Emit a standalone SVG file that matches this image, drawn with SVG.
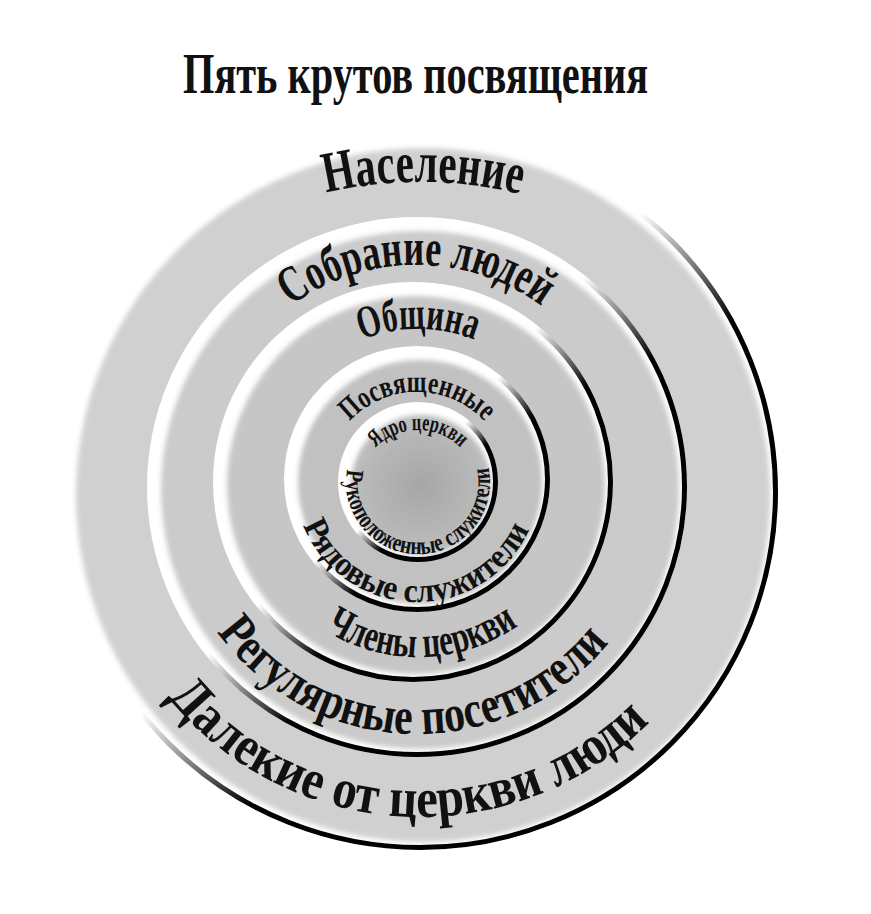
<svg xmlns="http://www.w3.org/2000/svg" width="871" height="914" viewBox="0 0 871 914">
<style>
.lbl{font-family:"Liberation Serif","Times New Roman",serif;font-weight:bold;fill:#111}
.halo{fill:#fff}
.edge{fill:none;stroke:url(#shade);stroke-width:5}
</style>
<defs>
<linearGradient id="shade" x1="0" y1="0" x2="1" y2="1">
<stop offset="0" stop-color="#000" stop-opacity="0"/>
<stop offset="0.46" stop-color="#000" stop-opacity="0"/>
<stop offset="0.6" stop-color="#000" stop-opacity="1"/>
<stop offset="1" stop-color="#000" stop-opacity="1"/>
</linearGradient>
<radialGradient id="core" cx="0.5" cy="0.5" r="0.5">
<stop offset="0" stop-color="#a6a6a6"/>
<stop offset="1" stop-color="#bdbdbd"/>
</radialGradient>
<filter id="soft" x="-10%" y="-10%" width="120%" height="120%">
<feGaussianBlur stdDeviation="2.5"/>
</filter>
<path id="p1" d="M 326 192.9 A 418 418 0 0 1 520 193.9"/>
<path id="p10" d="M 167.4 696.5 A 325 325 0 0 0 649.8 721.8"/>
<path id="p2" d="M 290.8 305.7 A 213 213 0 0 1 541.2 305.7"/>
<path id="p9" d="M 217.2 632.2 A 247 247 0 0 0 609 642.4"/>
<path id="p3" d="M 361.9 339.7 A 153 153 0 0 1 474.1 339.7"/>
<path id="p8" d="M 325.3 630.4 A 175 175 0 0 0 518.4 625.4"/>
<path id="p4" d="M 349.7 421.3 A 92 92 0 0 1 484.3 421.3"/>
<path id="p7" d="M 303 525.1 A 123 123 0 0 0 529.4 529"/>
<path id="p5" d="M 375.6 447.6 A 60 60 0 0 1 460.4 447.6"/>
<path id="p6" d="M 347.1 469.5 A 72 72 0 1 0 488.4 467"/>
</defs>

<g id="title">
<text class="lbl" x="183" y="93" font-size="57" textLength="465" lengthAdjust="spacingAndGlyphs">Пять крутов посвящения</text>
</g>

<g id="circle-population">
<circle class="halo" cx="420" cy="492" r="358"/>
<circle cx="423" cy="495" r="347" fill="#d0d0d0" filter="url(#soft)"/>
<circle class="edge" cx="420" cy="492" r="355.5"/>
<text class="lbl" font-size="58"><textPath href="#p1" textLength="196" lengthAdjust="spacingAndGlyphs">Население</textPath></text>
<text class="lbl" font-size="56"><textPath href="#p10" textLength="544" lengthAdjust="spacingAndGlyphs">Далекие от церкви люди</textPath></text>
</g>

<g id="circle-crowd">
<circle class="halo" cx="417" cy="487" r="270"/>
<circle cx="420" cy="490" r="259" fill="#cbcbcb" filter="url(#soft)"/>
<circle class="edge" cx="417" cy="487" r="267.5"/>
<text class="lbl" font-size="52"><textPath href="#p2" textLength="268" lengthAdjust="spacingAndGlyphs">Собрание людей</textPath></text>
<text class="lbl" font-size="52"><textPath href="#p9" textLength="452" lengthAdjust="spacingAndGlyphs">Регулярные посетители</textPath></text>
</g>

<g id="circle-congregation">
<circle class="halo" cx="413" cy="482" r="200"/>
<circle cx="416" cy="485" r="189" fill="#c6c6c6" filter="url(#soft)"/>
<circle class="edge" cx="413" cy="482" r="197.5"/>
<text class="lbl" font-size="46"><textPath href="#p3" textLength="115" lengthAdjust="spacingAndGlyphs">Община</textPath></text>
<text class="lbl" font-size="44"><textPath href="#p8" textLength="204" lengthAdjust="spacingAndGlyphs">Члены церкви</textPath></text>
</g>

<g id="circle-committed">
<circle class="halo" cx="417" cy="479" r="133"/>
<circle cx="420" cy="482" r="122" fill="#c1c1c1" filter="url(#soft)"/>
<circle class="edge" cx="417" cy="479" r="130.5"/>
<text class="lbl" font-size="31"><textPath href="#p4" textLength="151" lengthAdjust="spacingAndGlyphs">Посвященные</textPath></text>
<text class="lbl" font-size="34"><textPath href="#p7" textLength="287" lengthAdjust="spacingAndGlyphs">Рядовые служители</textPath></text>
</g>

<g id="circle-core">
<circle class="halo" cx="418" cy="482" r="80"/>
<circle cx="421" cy="485" r="70" fill="url(#core)" filter="url(#soft)"/>
<circle class="edge" cx="418" cy="482" r="77.5"/>
<text class="lbl" font-size="24"><textPath href="#p5" textLength="94" lengthAdjust="spacingAndGlyphs">Ядро церкви</textPath></text>
<text class="lbl" font-size="25"><textPath href="#p6" textLength="253" lengthAdjust="spacingAndGlyphs">Рукоположенные служители</textPath></text>
</g>
</svg>
